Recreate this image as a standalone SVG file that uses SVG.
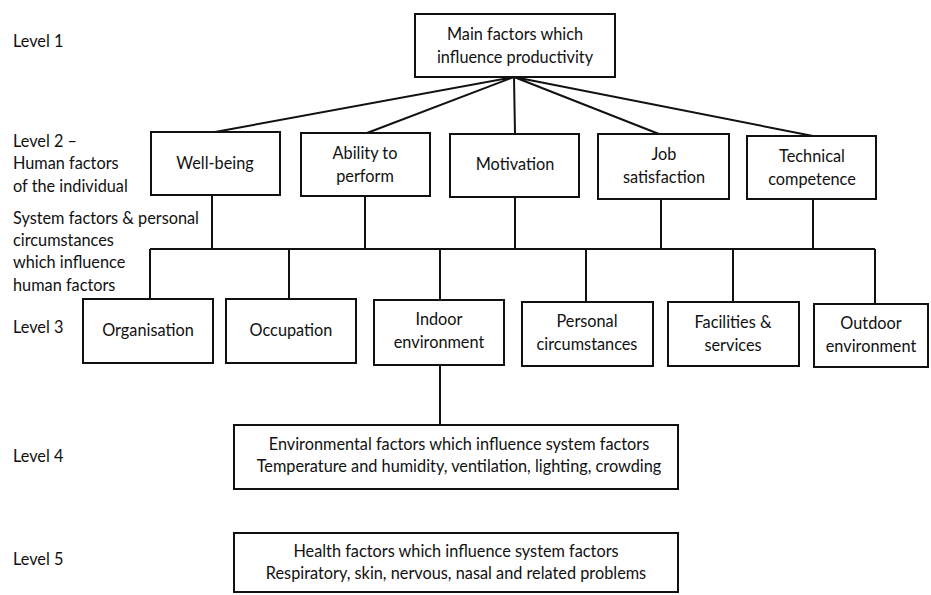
<svg xmlns="http://www.w3.org/2000/svg" width="931" height="595" viewBox="0 0 931 595">
<style>
.b{fill:#fff;stroke:#111;stroke-width:2}
.t{font-family:Lato,"Open Sans",sans-serif;font-size:16.3px;fill:#111;text-anchor:middle}
.l{font-family:Lato,"Open Sans",sans-serif;font-size:16.3px;fill:#111}
.c{fill:none;stroke:#111;stroke-width:2}
</style>
<rect width="931" height="595" fill="#fff"/>
<g id="labels">
<text class="l" x="13" y="47">Level 1</text>
<text class="l" x="13" y="147">Level 2 –</text>
<text class="l" x="13" y="169">Human factors</text>
<text class="l" x="13" y="192">of the individual</text>
<text class="l" x="13" y="224">System factors &amp; personal</text>
<text class="l" x="13" y="246">circumstances</text>
<text class="l" x="13" y="268">which influence</text>
<text class="l" x="13" y="291">human factors</text>
<text class="l" x="13" y="333">Level 3</text>
<text class="l" x="13" y="462">Level 4</text>
<text class="l" x="13" y="565">Level 5</text>
</g>
<g id="connectors">
<path class="c" d="M514,77 L215,132 M514,77 L367,133 M514,77 L515,134 M514,77 L659,134 M514,77 L813,136"/>
<path class="c" d="M212,195 V249 M365,196 V249 M515,197 V249 M661,199 V249 M813,199 V249"/>
<path class="c" d="M150,249 H875"/>
<path class="c" d="M150,249 V299 M289,249 V299 M440,249 V300 M586,249 V302 M733,249 V302 M875,249 V304"/>
<path class="c" d="M440,365 V425"/>
</g>
<g id="n1"><rect class="b" x="415" y="14" width="200" height="63"/>
<text class="t" x="515" y="40">Main factors which</text><text class="t" x="515" y="63">influence productivity</text></g>
<g id="n2a"><rect class="b" x="151" y="132" width="129" height="63"/><text class="t" x="215" y="169">Well-being</text></g>
<g id="n2b"><rect class="b" x="301" y="133" width="129" height="63"/><text class="t" x="365" y="159">Ability to</text><text class="t" x="365" y="182">perform</text></g>
<g id="n2c"><rect class="b" x="450" y="134" width="129" height="63"/><text class="t" x="515" y="170">Motivation</text></g>
<g id="n2d"><rect class="b" x="598" y="134" width="131" height="65"/><text class="t" x="664" y="160">Job</text><text class="t" x="664" y="183">satisfaction</text></g>
<g id="n2e"><rect class="b" x="747" y="136" width="129" height="63"/><text class="t" x="812" y="162">Technical</text><text class="t" x="812" y="185">competence</text></g>
<g id="n3a"><rect class="b" x="83" y="299" width="130" height="64"/><text class="t" x="148" y="336">Organisation</text></g>
<g id="n3b"><rect class="b" x="226" y="299" width="130" height="64"/><text class="t" x="291" y="336">Occupation</text></g>
<g id="n3c"><rect class="b" x="374" y="300" width="130" height="65"/><text class="t" x="439" y="325">Indoor</text><text class="t" x="439" y="348">environment</text></g>
<g id="n3d"><rect class="b" x="522" y="302" width="131" height="64"/><text class="t" x="587" y="327">Personal</text><text class="t" x="587" y="350">circumstances</text></g>
<g id="n3e"><rect class="b" x="668" y="302" width="131" height="64"/><text class="t" x="733" y="328">Facilities &amp;</text><text class="t" x="733" y="351">services</text></g>
<g id="n3f"><rect class="b" x="814" y="304" width="114" height="63"/><text class="t" x="871" y="329">Outdoor</text><text class="t" x="871" y="352">environment</text></g>
<g id="n4"><rect class="b" x="234" y="425" width="444" height="64"/><text class="t" x="459" y="450">Environmental factors which influence system factors</text><text class="t" x="459" y="472">Temperature and humidity, ventilation, lighting, crowding</text></g>
<g id="n5"><rect class="b" x="234" y="533" width="444" height="59"/><text class="t" x="456" y="557">Health factors which influence system factors</text><text class="t" x="456" y="579">Respiratory, skin, nervous, nasal and related problems</text></g>
</svg>
